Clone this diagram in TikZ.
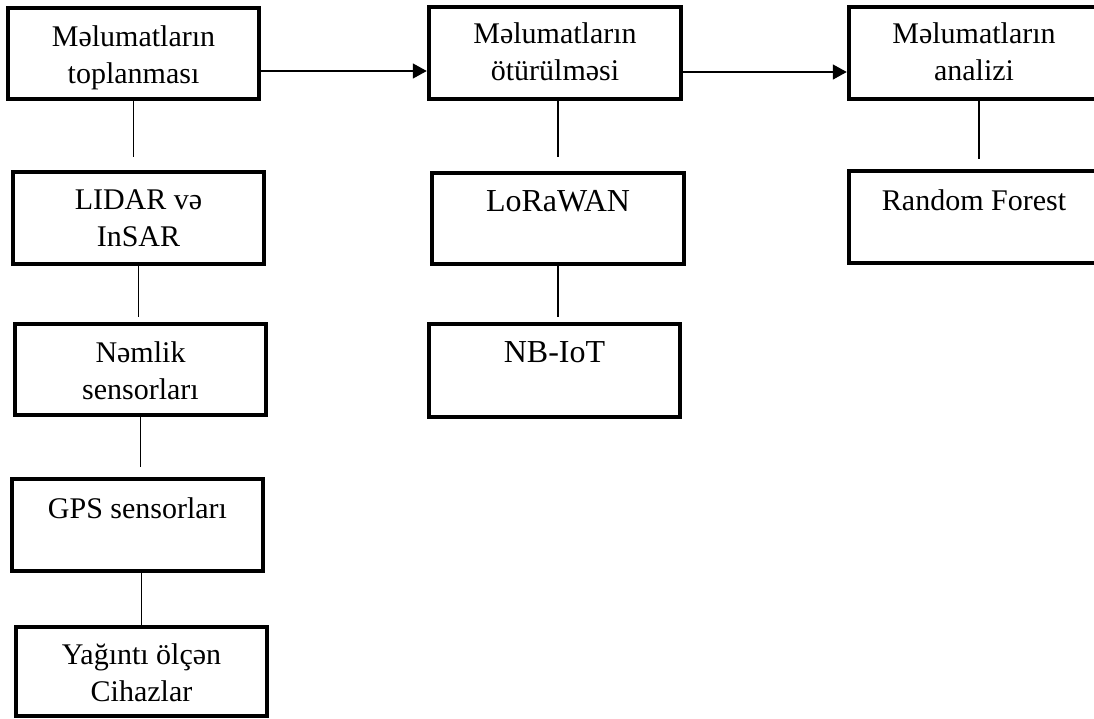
\documentclass[tikz,border=0pt]{standalone}
\usepackage{fontspec}
\setmainfont{Liberation Serif}
\usetikzlibrary{arrows.meta}
\begin{document}
\begin{tikzpicture}[x=1pt,y=-1pt,
  box/.style={draw, line width=4.5pt, rectangle, inner sep=0pt, fill=white},
  txt/.style={inner sep=0pt, align=center, anchor=north, font=\fontsize{30}{37}\selectfont},
  bigtxt/.style={txt, font=\fontsize{32}{38}\selectfont},
  conn/.style={draw, line width=1.4pt},
  arr/.style={draw, line width=1.6pt, -{Triangle[length=14pt,width=15pt]}}]
\useasboundingbox (0,0) rectangle (1094,718);
\clip (0,0) rectangle (1094,718);
\fill[white] (0,0) rectangle (1094,718);
% boxes
\node[box, minimum width=251pt, minimum height=91pt] (b1) at (133.5,53.5) {};
\node[box, minimum width=251pt, minimum height=92pt] (b2) at (138.5,218) {};
\node[box, minimum width=251pt, minimum height=91pt] (b3) at (140.5,369.5) {};
\node[box, minimum width=251pt, minimum height=92pt] (b4) at (137.5,525) {};
\node[box, minimum width=251pt, minimum height=89pt] (b5) at (141.5,671.5) {};
\node[box, minimum width=252pt, minimum height=92pt] (b6) at (555,53) {};
\node[box, minimum width=252pt, minimum height=91pt] (b7) at (558,218.5) {};
\node[box, minimum width=251pt, minimum height=93pt] (b8) at (554.5,370.5) {};
\node[box, minimum width=250pt, minimum height=92pt] (b9) at (974,53) {};
\node[box, minimum width=250pt, minimum height=92pt] (b10) at (974,217) {};
% texts
\node[txt] (t1) at ([yshift=-20pt]b1.north) {Məlumatların\\toplanması};
\node[txt] (t2) at ([yshift=-20pt]b2.north) {LIDAR və\\InSAR};
\node[txt] (t3) at ([yshift=-20pt]b3.north) {Nəmlik\\sensorları};
\node[txt] (t4) at ([yshift=-21pt]b4.north) {GPS sensorları};
\node[txt] (t5) at ([yshift=-19pt]b5.north) {Yağıntı ölçən\\Cihazlar};
\node[txt] (t6) at ([yshift=-18pt]b6.north) {Məlumatların\\ötürülməsi};
\node[bigtxt] (t7) at ([yshift=-19pt]b7.north) {LoRaWAN};
\node[bigtxt] (t8) at ([yshift=-20pt]b8.north) {NB-IoT};
\node[txt] (t9) at ([yshift=-18pt]b9.north) {Məlumatların\\analizi};
\node[txt] (t10) at ([yshift=-21pt]b10.north) {Random Forest};
% connectors
\draw[conn, shorten >=13pt] (b1.south) -- (b1.south |- b2.north);
\draw[conn, shorten >=5pt] (b2.south) -- (b2.south |- b3.north);
\draw[conn, shorten >=10pt] (b3.south) -- (b3.south |- b4.north);
\draw[conn] (b5.north |- b4.south) -- (b5.north);
\draw[conn, shorten >=14pt] (b7.north |- b6.south) -- (b7.north);
\draw[conn, shorten >=5pt] (b7.south) -- (b7.south |- b8.north);
\draw[conn, shorten >=10pt] ([xshift=5pt]b9.south) -- ([xshift=5pt]b10.north);
% arrows
\draw[arr] ([yshift=-17.5pt]b1.east) -- ([yshift=-17.5pt]b1.east -| b6.west);
\draw[arr] ([yshift=-19pt]b6.east) -- ([yshift=-19pt]b6.east -| b9.west);
\end{tikzpicture}
\end{document}
